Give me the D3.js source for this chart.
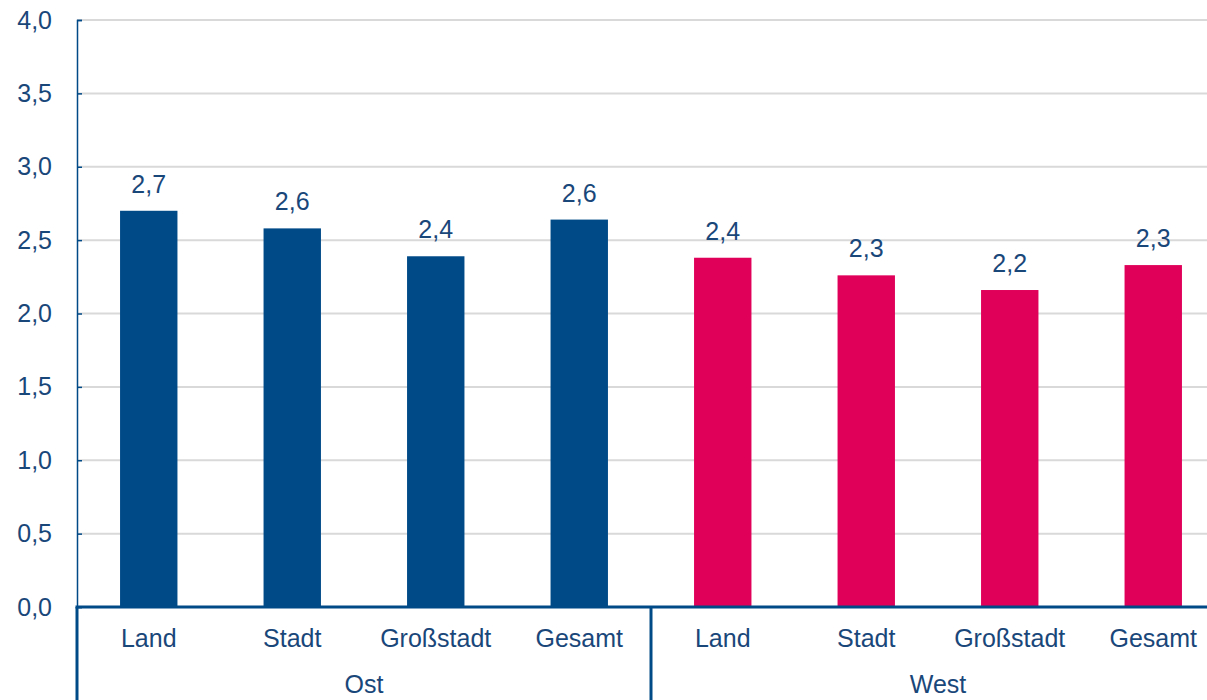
<!DOCTYPE html>
<html>
<head>
<meta charset="utf-8">
<script src="https://cdn.jsdelivr.net/npm/d3@7"></script>
<style>
  body { margin: 0; background: #fff; }
  text { font-family: "Liberation Sans", Arial, sans-serif; }
</style>
</head>
<body>
<div id="chart"></div>
<script>
// data
var groups = ["Ost", "West"];
var categories = ["Land", "Stadt", "Großstadt", "Gesamt"];
var ostValues = [2.7, 2.58, 2.39, 2.64];
var westValues = [2.38, 2.26, 2.16, 2.33];
var valueLabels = ["2,7", "2,6", "2,4", "2,6", "2,4", "2,3", "2,2", "2,3"];
var yTicks = [0, 0.5, 1, 1.5, 2, 2.5, 3, 3.5, 4];
var groupColors = { Ost: "#004a87", West: "#e0005a" };

var rows = [];
groups.forEach(function (g, gi) {
  var vals = gi === 0 ? ostValues : westValues;
  categories.forEach(function (c, ci) {
    rows.push({ key: g + "-" + c, group: g, cat: c, value: vals[ci], label: valueLabels[gi * 4 + ci] });
  });
});

var margin = { top: 20, right: -18, bottom: 93, left: 77 },
    width = 1207 - margin.left - margin.right,
    height = 700 - margin.top - margin.bottom;

var textColor = "#1a477a";
var axisColor = "#004a87";
var fontSize = 25;

var x = d3.scaleBand()
  .domain(rows.map(function (d) { return d.key; }))
  .range([0, width])
  .paddingInner(0.6)
  .paddingOuter(0.3);

var y = d3.scaleLinear().domain([0, 4]).range([height, 0]);

var svg = d3.select("#chart")
  .append("svg")
  .attr("width", 1207)
  .attr("height", 700)
  .append("g")
  .attr("transform", "translate(" + margin.left + "," + margin.top + ")");

// gridlines
svg.append("g")
  .selectAll("line")
  .data(yTicks.slice(1))
  .enter()
  .append("line")
  .attr("x1", 0)
  .attr("x2", width)
  .attr("y1", function (d) { return y(d); })
  .attr("y2", function (d) { return y(d); })
  .attr("stroke", "#d9d9d9")
  .attr("stroke-width", 2);

// y axis
var yAxis = d3.axisLeft(y)
  .tickValues(yTicks)
  .tickSize(-5)
  .tickPadding(25)
  .tickFormat(function (d) { return d3.format(".1f")(d).replace(".", ","); });

var yg = svg.append("g").attr("class", "y-axis").call(yAxis);
yg.select(".domain").attr("stroke", axisColor).attr("stroke-width", 1.5);
yg.selectAll(".tick line").attr("stroke", axisColor).attr("stroke-width", 1.5);
yg.selectAll(".tick text")
  .attr("fill", textColor)
  .attr("font-size", fontSize)
  .attr("font-family", "Liberation Sans, Arial, sans-serif");

// bars
svg.selectAll(".myRect")
  .data(rows)
  .enter()
  .append("rect")
  .attr("class", "myRect")
  .attr("x", function (d) { return x(d.key); })
  .attr("y", function (d) { return y(d.value); })
  .attr("width", x.bandwidth())
  .attr("height", function (d) { return height - y(d.value); })
  .attr("fill", function (d) { return groupColors[d.group]; });

// value labels
svg.selectAll(".valLabel")
  .data(rows)
  .enter()
  .append("text")
  .attr("class", "valLabel")
  .attr("x", function (d) { return x(d.key) + x.bandwidth() / 2; })
  .attr("y", function (d) { return y(d.value) - 18; })
  .attr("text-anchor", "middle")
  .attr("fill", textColor)
  .attr("font-size", fontSize)
  .text(function (d) { return d.label; });

// zero line
svg.append("line")
  .attr("x1", -1.5)
  .attr("x2", width)
  .attr("y1", y(0))
  .attr("y2", y(0))
  .attr("stroke", axisColor)
  .attr("stroke-width", 3);

// category labels
svg.selectAll(".catLabel")
  .data(rows)
  .enter()
  .append("text")
  .attr("class", "catLabel")
  .attr("x", function (d) { return x(d.key) + x.bandwidth() / 2; })
  .attr("y", height + 40)
  .attr("text-anchor", "middle")
  .attr("fill", textColor)
  .attr("font-size", fontSize)
  .text(function (d) { return d.cat; });

// group separators and labels
var sepX = [0, width / 2, width];
svg.selectAll(".sep")
  .data(sepX)
  .enter()
  .append("line")
  .attr("class", "sep")
  .attr("x1", function (d) { return d; })
  .attr("x2", function (d) { return d; })
  .attr("y1", height)
  .attr("y2", height + margin.bottom)
  .attr("stroke", axisColor)
  .attr("stroke-width", 3);

svg.selectAll(".groupLabel")
  .data(groups)
  .enter()
  .append("text")
  .attr("class", "groupLabel")
  .attr("x", function (d, i) { return width / 4 + i * width / 2; })
  .attr("y", height + 86)
  .attr("text-anchor", "middle")
  .attr("fill", textColor)
  .attr("font-size", fontSize)
  .text(function (d) { return d; });
</script>
</body>
</html>
